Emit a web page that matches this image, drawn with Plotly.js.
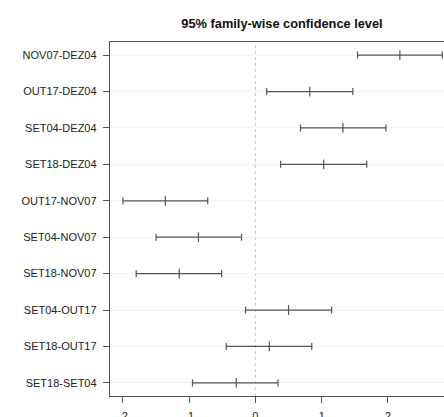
<!DOCTYPE html>
<html>
<head>
<meta charset="utf-8">
<script src="https://cdn.plot.ly/plotly-3.0.1.min.js"></script>
<style>
html,body{margin:0;padding:0;background:#fff;overflow:hidden;}
#chart{width:444px;height:417px;}
</style>
</head>
<body>
<div id="chart"></div>
<script>
var comparisons = ["NOV07-DEZ04","OUT17-DEZ04","SET04-DEZ04","SET18-DEZ04","OUT17-NOV07","SET04-NOV07","SET18-NOV07","SET04-OUT17","SET18-OUT17","SET18-SET04"];
var diffs = [2.18, 0.82, 1.32, 1.03, -1.36, -0.86, -1.15, 0.50, 0.21, -0.29];
var lowers = [1.54, 0.17, 0.68, 0.38, -2.00, -1.50, -1.80, -0.15, -0.44, -0.95];
var uppers = [2.82, 1.47, 1.97, 1.68, -0.72, -0.21, -0.51, 1.15, 0.85, 0.34];
var xTicks = [-2, -1, 0, 1, 2];
var titleText = "95% family-wise confidence level";

var plus = uppers.map(function(u, i){ return u - diffs[i]; });
var minus = lowers.map(function(l, i){ return diffs[i] - l; });

var trace = {
  type: "scatter",
  mode: "markers",
  x: diffs,
  y: comparisons,
  marker: {symbol: "line-ns-open", size: 7, color: "#555", line: {color: "#555", width: 1.2}},
  error_x: {type: "data", symmetric: false, array: plus, arrayminus: minus, color: "#555", thickness: 1.2, width: 3.5},
  hoverinfo: "x+y",
  showlegend: false
};

var layout = {
  width: 444,
  height: 417,
  margin: {l: 110, r: 0, t: 42, b: 21, pad: 0},
  paper_bgcolor: "#fff",
  plot_bgcolor: "#fff",
  font: {family: "Liberation Sans, Arial, sans-serif", size: 11, color: "#222"},
  title: {text: "<b>" + titleText + "</b>", x: 0.515, xref: "paper", xanchor: "center", y: 0.943, yref: "container", yanchor: "middle", font: {size: 12.8, color: "#111"}},
  xaxis: {
    range: [-2.195, 2.846],
    tickvals: xTicks,
    ticktext: xTicks.map(String),
    ticks: "outside", ticklen: 6, tickcolor: "#555", tickwidth: 1,
    showline: true, linecolor: "#555", linewidth: 1.2, mirror: true,
    showgrid: false, zeroline: false,
    ticklabelstandoff: 4,
    tickfont: {size: 11, color: "#222"}
  },
  yaxis: {
    type: "category",
    categoryorder: "array",
    categoryarray: comparisons,
    range: [9.36, -0.36],
    ticks: "outside", ticklen: 6, tickcolor: "#555", tickwidth: 1,
    showline: true, linecolor: "#555", linewidth: 1.2,
    showgrid: true, gridcolor: "#f2f2f2", gridwidth: 1,
    zeroline: false,
    ticklabelstandoff: 4,
    tickfont: {size: 11, color: "#222"}
  },
  shapes: [{type: "line", xref: "x", yref: "paper", x0: 0, x1: 0, y0: 0, y1: 1, line: {color: "#bbb", width: 0.8, dash: "dot"}, layer: "below"}]
};

Plotly.newPlot("chart", [trace], layout, {displayModeBar: false, staticPlot: true});
</script>
</body>
</html>
